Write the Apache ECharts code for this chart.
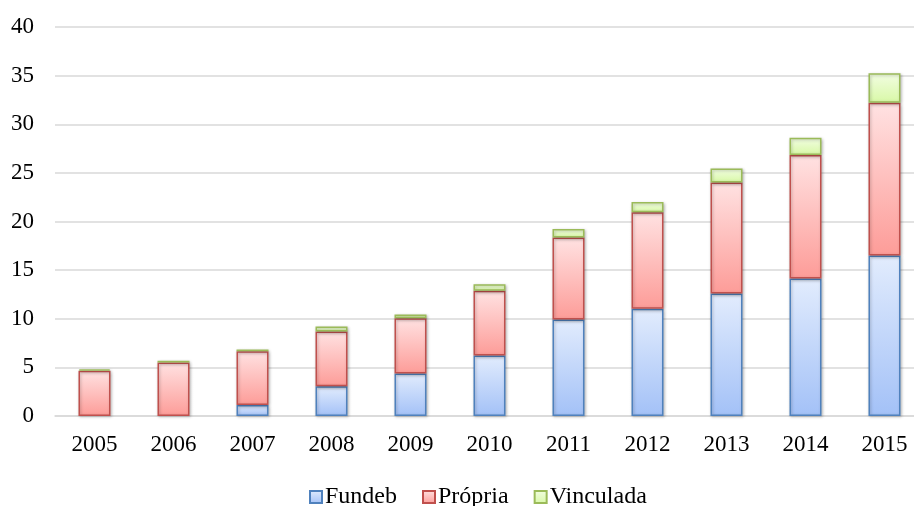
<!DOCTYPE html>
<html>
<head>
<meta charset="utf-8">
<script src="https://cdn.jsdelivr.net/npm/echarts@6/dist/echarts.min.js"></script>
<style>
  html, body { margin: 0; padding: 0; background: #fff; }
  #main { width: 914px; height: 506px; }
</style>
</head>
<body>
<div id="main"></div>
<script>
var years = ['2005', '2006', '2007', '2008', '2009', '2010', '2011', '2012', '2013', '2014', '2015'];
var fundeb = [0, 0, 1.13, 3.05, 4.38, 6.23, 9.93, 11.02, 12.6, 14.13, 16.5];
var propria = [4.65, 5.5, 5.54, 5.65, 5.68, 6.64, 8.42, 9.92, 11.42, 12.7, 15.7];
var vinculada = [0.15, 0.18, 0.18, 0.5, 0.38, 0.68, 0.88, 1.06, 1.44, 1.78, 3.05];

var font = 'Liberation Serif';

function grad(top, bottom) {
    return new echarts.graphic.LinearGradient(0, 0, 0, 1, [
        { offset: 0, color: top },
        { offset: 1, color: bottom }
    ]);
}

function barSeries(name, data, border, top, bottom) {
    return {
        name: name,
        type: 'bar',
        stack: 'total',
        barWidth: 32,
        // a zero segment would still draw its border, so leave it empty
        data: data.map(function (v) { return v === 0 ? '-' : v; }),
        itemStyle: {
            color: grad(top, bottom),
            borderColor: border,
            borderWidth: 1.5,
            shadowBlur: 3,
            shadowColor: 'rgba(0,0,0,0.25)',
            shadowOffsetX: 1,
            shadowOffsetY: 1
        }
    };
}

var myChart = echarts.init(document.getElementById('main'));
var option = {
    backgroundColor: '#fff',
    animation: false,
    grid: { left: 55, top: 27, right: -10, bottom: 90, containLabel: false, outerBoundsMode: 'none' },
    legend: {
        left: 309,
        top: 485,
        padding: 0,
        itemWidth: 12,
        itemHeight: 12,
        itemGap: 25,
        icon: 'rect',
        textStyle: { fontFamily: font, fontSize: 24, color: '#000', padding: [0, 0, 0, -2] },
        data: ['Fundeb', 'Própria', 'Vinculada']
    },
    xAxis: {
        type: 'category',
        data: years,
        axisLine: { lineStyle: { color: '#d9d9d9', width: 1.5 } },
        axisTick: { show: false },
        axisLabel: { fontFamily: font, fontSize: 23, color: '#000', margin: 17 }
    },
    yAxis: {
        type: 'value',
        min: 0,
        max: 40,
        interval: 5,
        axisLine: { show: false },
        axisTick: { show: false },
        splitLine: { lineStyle: { color: '#d9d9d9', width: 1.5 } },
        axisLabel: { fontFamily: font, fontSize: 23, color: '#000', margin: 21 }
    },
    series: [
        barSeries('Fundeb', fundeb, '#4f81bd', '#e2ecfd', '#a3c1f7'),
        barSeries('Própria', propria, '#c0504d', '#ffe2e2', '#fd9c98'),
        barSeries('Vinculada', vinculada, '#9bbb59', '#f2fde2', '#d8f8a6')
    ]
};
myChart.setOption(option, true);
window.addEventListener('resize', function () {
    myChart.resize();
});
</script>
</body>
</html>
